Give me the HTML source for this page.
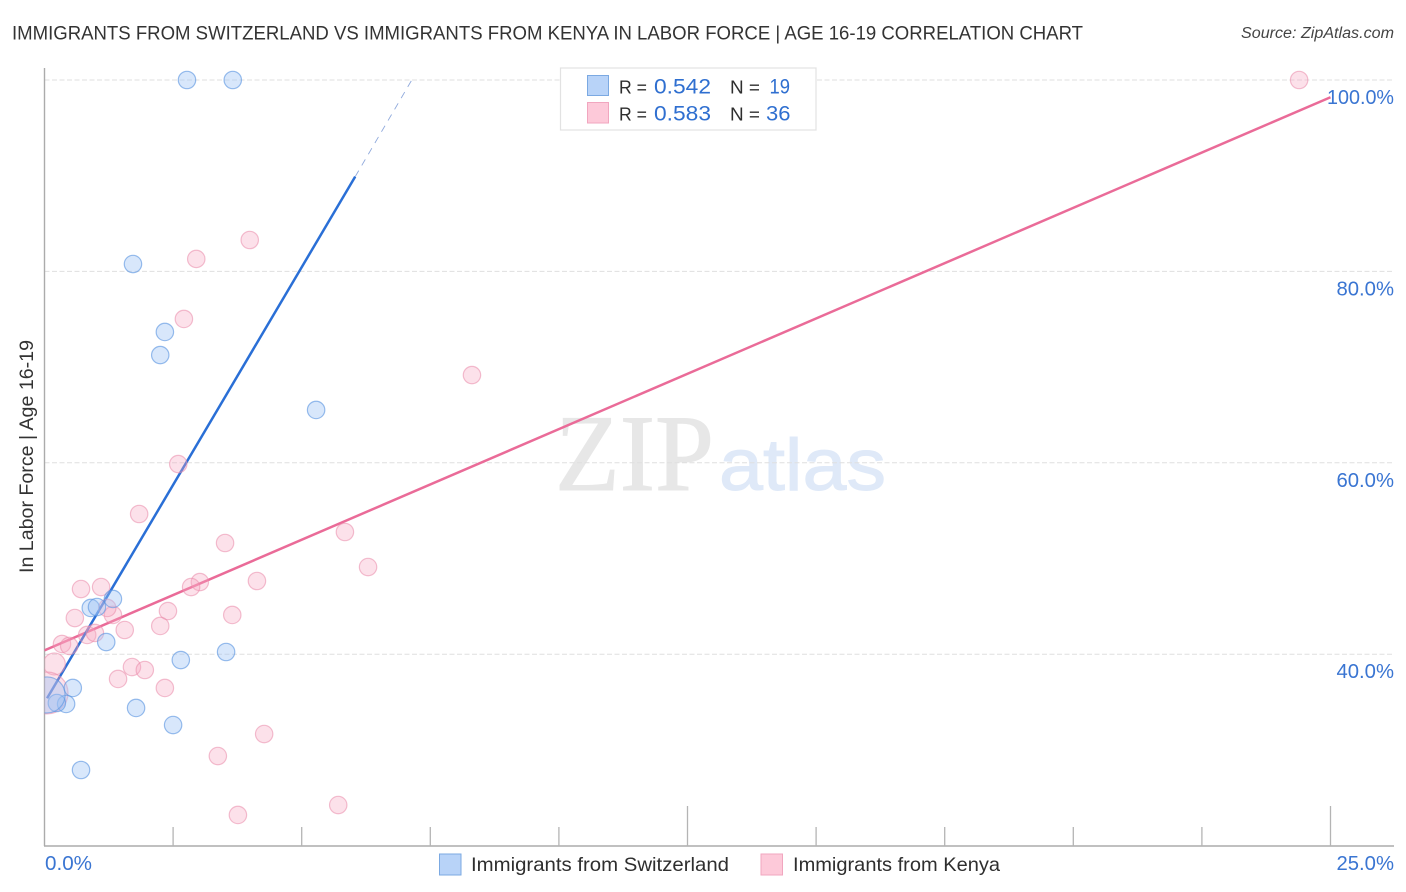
<!DOCTYPE html>
<html lang="en">
<head>
<meta charset="utf-8">
<title>Immigrants from Switzerland vs Immigrants from Kenya correlation chart</title>
<style>
html,body{margin:0;padding:0;background:#fff;}
svg{display:block;font-family:"Liberation Sans",sans-serif;}
</style>
</head>
<body>
<svg id="chart" xmlns="http://www.w3.org/2000/svg" width="1406" height="892" viewBox="0 0 1406 892">
  <defs>
    <clipPath id="plot-clip"><rect x="44.5" y="60" width="1350" height="786"/></clipPath>
  </defs>
  <rect x="0" y="0" width="1406" height="892" fill="#ffffff"/>

  <text x="12" y="39.5" font-size="19.5" fill="#333333" textLength="1071" lengthAdjust="spacingAndGlyphs">IMMIGRANTS FROM SWITZERLAND VS IMMIGRANTS FROM KENYA IN LABOR FORCE | AGE 16-19 CORRELATION CHART</text>
  <text x="1241" y="38" font-size="15.5" font-style="italic" fill="#444444" textLength="153" lengthAdjust="spacingAndGlyphs">Source: ZipAtlas.com</text>

  <g>
    <text x="555" y="490" font-family="'Liberation Serif',serif" font-size="109" fill="#e7e7e7" stroke="#e7e7e7" stroke-width="1" textLength="159" lengthAdjust="spacingAndGlyphs">ZIP</text>
    <text x="719" y="490" font-size="73" fill="#dfe9f8" stroke="#dfe9f8" stroke-width="1" textLength="167" lengthAdjust="spacingAndGlyphs">atlas</text>
  </g>

  <g id="grid"></g>
  <g id="axes"></g>
  <g id="trends" clip-path="url(#plot-clip)"></g>
  <g id="points" clip-path="url(#plot-clip)"></g>
  <g id="tick-labels"></g>

  <text transform="translate(33 456.5) rotate(-90)" text-anchor="middle" font-size="19" fill="#333333" textLength="233" lengthAdjust="spacingAndGlyphs">In Labor Force | Age 16-19</text>

  <g>
    <rect x="560.5" y="68" width="255.5" height="62" fill="#ffffff" stroke="#e2e2e2" stroke-width="1.2"/>
    <rect x="587.5" y="75.5" width="21" height="20" fill="#b8d3f8" stroke="#7ba9e2" stroke-width="1"/>
    <text x="619" y="93.5" font-size="18.5" fill="#2e2e2e" textLength="28" lengthAdjust="spacingAndGlyphs">R =</text>
    <text x="654" y="93.5" font-size="21" fill="#2f6fd0" textLength="57" lengthAdjust="spacingAndGlyphs">0.542</text>
    <text x="730" y="93.5" font-size="18.5" fill="#2e2e2e" textLength="30" lengthAdjust="spacingAndGlyphs">N =</text>
    <text x="769.5" y="93.5" font-size="21" fill="#2f6fd0" textLength="20.5" lengthAdjust="spacingAndGlyphs">19</text>
    <rect x="587.5" y="102.5" width="21" height="20.5" fill="#fdc9d9" stroke="#f1a6bf" stroke-width="1"/>
    <text x="619" y="120.7" font-size="18.5" fill="#2e2e2e" textLength="28" lengthAdjust="spacingAndGlyphs">R =</text>
    <text x="654" y="120.7" font-size="21" fill="#2f6fd0" textLength="57" lengthAdjust="spacingAndGlyphs">0.583</text>
    <text x="730" y="120.7" font-size="18.5" fill="#2e2e2e" textLength="30" lengthAdjust="spacingAndGlyphs">N =</text>
    <text x="766" y="120.7" font-size="21" fill="#2f6fd0" textLength="24.5" lengthAdjust="spacingAndGlyphs">36</text>
  </g>

  <g>
    <rect x="439.5" y="854" width="21.5" height="21" fill="#b8d3f8" stroke="#7ba9e2" stroke-width="1"/>
    <text x="471" y="871" font-size="19.5" fill="#2e2e2e" textLength="258" lengthAdjust="spacingAndGlyphs">Immigrants from Switzerland</text>
    <rect x="761" y="854" width="21.5" height="21" fill="#fdc9d9" stroke="#f1a6bf" stroke-width="1"/>
    <text x="793" y="871" font-size="19.5" fill="#2e2e2e" textLength="207" lengthAdjust="spacingAndGlyphs">Immigrants from Kenya</text>
  </g>
</svg>

<script>
var xTickValues = [0, 2.5, 5, 7.5, 10, 12.5, 15, 17.5, 20, 22.5, 25];
var xMajorTicks = [0, 12.5, 25];
var xTickLabels = ['0.0%', '25.0%'];
var yTickValues = [40, 60, 80, 100];
var yTickLabels = ['40.0%', '60.0%', '80.0%', '100.0%'];

var swissX = [2.77, 3.66, 1.72, 2.34, 2.25, 5.28, 1.33, 0.90, 1.02, 1.20, 2.65, 3.53, 0.55, 0.42, 0.24, 1.78, 2.50, 0.71, 0.05];
var swissY = [100, 100, 80.77, 73.67, 71.26, 65.52, 45.77, 44.83, 44.93, 41.27, 39.39, 40.23, 36.47, 34.80, 34.90, 34.38, 32.60, 27.90, 35.74];
var swissWeight = [1, 1, 1, 1, 1, 1, 1, 1, 1, 1, 1, 1, 1, 1, 1, 1, 1, 1, 4.3];

var kenyaX = [24.39, 3.99, 2.95, 2.71, 8.31, 2.60, 1.84, 5.84, 3.51, 6.29, 4.13, 3.02, 2.85, 0.71, 1.10, 0.59, 1.33, 1.22, 2.40, 3.65, 2.25, 1.56, 0.83, 0.98, 0.34, 0.48, 0.19, 1.70, 1.95, 1.43, 2.34, 0.05, 4.27, 3.37, 5.71, 3.76];
var kenyaY = [100, 83.28, 81.30, 75.03, 69.17, 59.87, 54.65, 52.77, 51.62, 49.11, 47.65, 47.54, 47.02, 46.81, 47.02, 43.78, 44.10, 44.83, 44.51, 44.10, 42.95, 42.53, 42.01, 42.22, 41.07, 40.86, 38.98, 38.66, 38.35, 37.41, 36.47, 35.95, 31.66, 29.36, 24.24, 23.20];
var kenyaWeight = [1, 1, 1, 1, 1, 1, 1, 1, 1, 1, 1, 1, 1, 1, 1, 1, 1, 1, 1, 1, 1, 1, 1, 1, 1, 1, 1.6, 1, 1, 1, 1, 5.8, 1, 1, 1, 1];

var swissTrendX = [0.05, 6.04];
var swissTrendY = [35.4, 89.9];
var swissExtensionX = [6.04, 7.14];
var swissExtensionY = [89.9, 100];
var kenyaTrendX = [0, 25];
var kenyaTrendY = [40.4, 98.2];

var SVG_NS = 'http://www.w3.org/2000/svg';

function xScale(v) { return 44.5 + v * 51.44; }
function yScale(v) { return 80 + (100 - v) * 9.57; }
function radius(w) { return 8.7 * Math.sqrt(w); }
function labelWidth(s) { return s.length === 6 ? 67 : s.length === 5 ? 57.5 : 47; }

function make(tag, parentId, attrs) {
  var el = document.createElementNS(SVG_NS, tag);
  for (var k in attrs) { el.setAttribute(k, attrs[k]); }
  document.getElementById(parentId).appendChild(el);
  return el;
}

yTickValues.forEach(function (v) {
  var line = make('line', 'grid', {
    x1: 44.5, x2: 1394, y1: yScale(v), y2: yScale(v),
    stroke: '#dfdfdf', 'stroke-width': 1, 'stroke-dasharray': '5 2.5'
  });
  
  
});

var yAxis = make('line', 'axes', { x1: 44.5, x2: 44.5, y1: 68, y2: 846, stroke: '#ababab', 'stroke-width': 1.4 });



var xAxis = make('line', 'axes', { x1: 44, x2: 1394, y1: 846, y2: 846, stroke: '#ababab', 'stroke-width': 1.4 });



xTickValues.slice(1).forEach(function (v) {
  var top = xMajorTicks.indexOf(v) >= 0 ? 806 : 827;
  var tick = make('line', 'axes', { x1: xScale(v), x2: xScale(v), y1: top, y2: 846, stroke: '#b4b4b4', 'stroke-width': 1.3 });
  
  
});

function drawTrend(xs, ys, color, width, dash, name) {
  var attrs = {
    x1: xScale(xs[0]), y1: yScale(ys[0]), x2: xScale(xs[1]), y2: yScale(ys[1]),
    stroke: color, 'stroke-width': width, 'stroke-linecap': 'butt'
  };
  if (dash) { attrs['stroke-dasharray'] = dash; }
  var line = make('line', 'trends', attrs);
  
  
}
drawTrend(kenyaTrendX, kenyaTrendY, '#ea6b98', 2.5, null, 'trend-line-kenya');
drawTrend(swissTrendX, swissTrendY, '#2a6fd6', 2.5, null, 'trend-line-switzerland');
drawTrend(swissExtensionX, swissExtensionY, '#8fa9dc', 0.9, '7 6', 'trend-extension-switzerland');

kenyaX.forEach(function (v, i) {
  var dot = make('circle', 'points', {
    cx: xScale(v), cy: yScale(kenyaY[i]), r: radius(kenyaWeight[i]),
    fill: '#f7a8c0', 'fill-opacity': 0.34, stroke: '#e98aa9', 'stroke-opacity': 0.55, 'stroke-width': 1.2
  });
  
  
});

swissX.forEach(function (v, i) {
  var dot = make('circle', 'points', {
    cx: xScale(v), cy: yScale(swissY[i]), r: radius(swissWeight[i]),
    fill: '#9dc3f5', 'fill-opacity': 0.4, stroke: '#5b94e0', 'stroke-opacity': 0.62, 'stroke-width': 1.2
  });
  
  
});

yTickValues.forEach(function (v, i) {
  var label = make('text', 'tick-labels', {
    x: 1394, y: yScale(v) + 24, 'text-anchor': 'end', 'font-size': 20, fill: '#3a75d2',
    textLength: labelWidth(yTickLabels[i]), lengthAdjust: 'spacingAndGlyphs'
  });
  label.textContent = yTickLabels[i];
  
  
});

var xLabelStart = make('text', 'tick-labels', {
  x: 45, y: 870, 'font-size': 20, fill: '#3a75d2',
  textLength: labelWidth(xTickLabels[0]), lengthAdjust: 'spacingAndGlyphs'
});
xLabelStart.textContent = xTickLabels[0];



var xLabelEnd = make('text', 'tick-labels', {
  x: 1394, y: 870, 'text-anchor': 'end', 'font-size': 20, fill: '#3a75d2',
  textLength: labelWidth(xTickLabels[1]), lengthAdjust: 'spacingAndGlyphs'
});
xLabelEnd.textContent = xTickLabels[1];


</script>
</body>
</html>
